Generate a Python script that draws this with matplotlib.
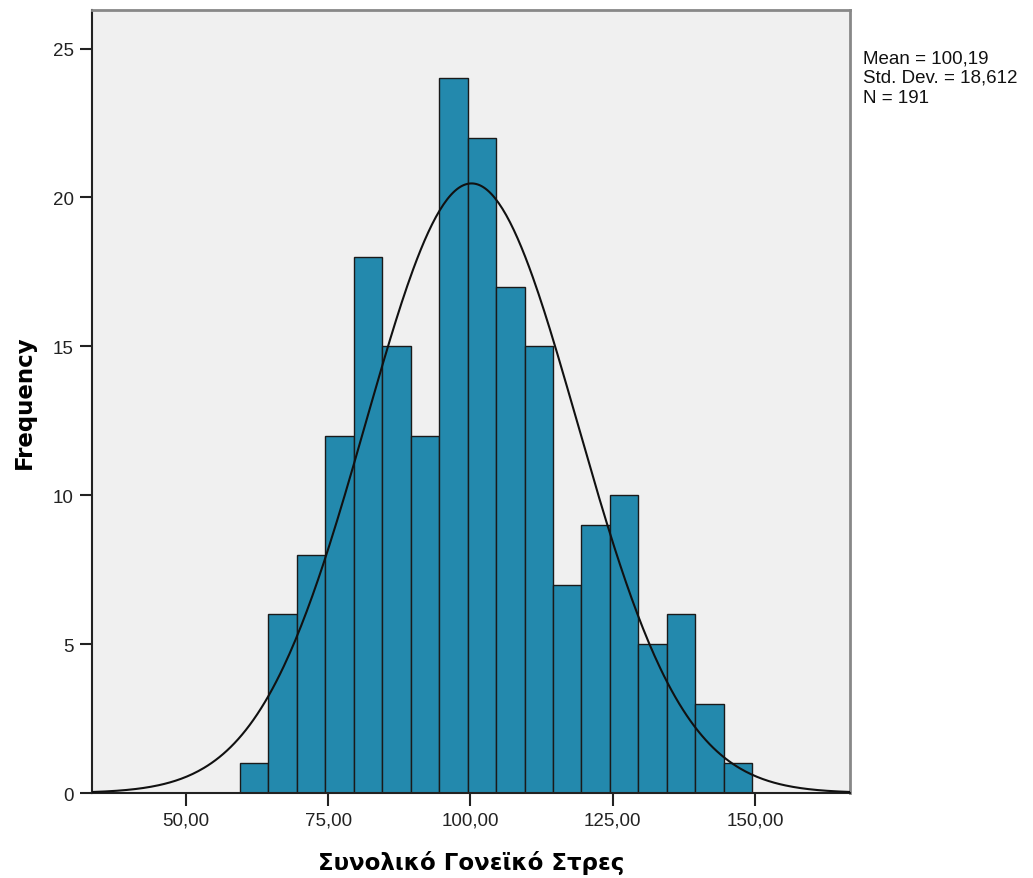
import matplotlib

matplotlib.use('Agg')
import numpy as np
import matplotlib.pyplot as plt

# histogram data
bin_start = 59.5
bin_width = 5.0
counts = [1, 6, 8, 12, 18, 15, 12, 24, 22, 17, 15, 7, 9, 10, 5, 6, 3, 1]
mean = 100.19
std_dev = 18.612
n_total = 191
x_ticks = [50, 75, 100, 125, 150]
y_ticks = [0, 5, 10, 15, 20, 25]

plt.rcParams['font.family'] = ['Liberation Sans', 'DejaVu Sans']

fig = plt.figure(figsize=(10.33, 8.79), dpi=100)
ax = fig.add_axes([0.089, 0.0967, 0.734, 0.891])
ax.set_facecolor('#F0F0F0')

lefts = bin_start + bin_width * np.arange(len(counts))
ax.bar(lefts, counts, width=bin_width, align='edge', color='#2389AD',
       edgecolor='#1a1a1a', linewidth=1.0, zorder=2)

xlim = (33.5, 166.7)
xs = np.linspace(xlim[0], xlim[1], 400)
pdf = np.exp(-0.5 * ((xs - mean) / std_dev) ** 2) / (std_dev * np.sqrt(2 * np.pi))
ax.plot(xs, n_total * bin_width * pdf, color='#111111', linewidth=1.5, zorder=3)

ax.set_xlim(*xlim)
ax.set_ylim(0, 26.3)
ax.set_xticks(x_ticks)
ax.set_xticklabels(["{:.2f}".format(v).replace('.', ',') for v in x_ticks])
ax.set_yticks(y_ticks)
ax.tick_params(axis='both', direction='out', length=9, width=1.5, labelsize=13.5,
               colors='#222222', pad=4)

ax.spines['left'].set_color('#222222')
ax.spines['bottom'].set_color('#222222')
ax.spines['left'].set_linewidth(1.5)
ax.spines['bottom'].set_linewidth(1.5)
ax.spines['top'].set_color('#888888')
ax.spines['right'].set_color('#888888')
ax.spines['top'].set_linewidth(2)
ax.spines['right'].set_linewidth(2)

ax.set_xlabel("Συνολικό Γονεϊκό Στρες", fontsize=16.5, fontweight='bold', labelpad=16,
              family='DejaVu Sans')
ax.set_ylabel("Frequency", fontsize=16.5, fontweight='bold', labelpad=12,
              family='DejaVu Sans')

stats = "Mean = {}\nStd. Dev. = {}\nN = {}".format(
    "{:.2f}".format(mean).replace('.', ','),
    "{:.3f}".format(std_dev).replace('.', ','), n_total)
fig.text(0.835, 0.943, stats, fontsize=13.5, va='top', ha='left',
         color='#111111', linespacing=1.22)

fig.savefig('out.png', dpi=100)
